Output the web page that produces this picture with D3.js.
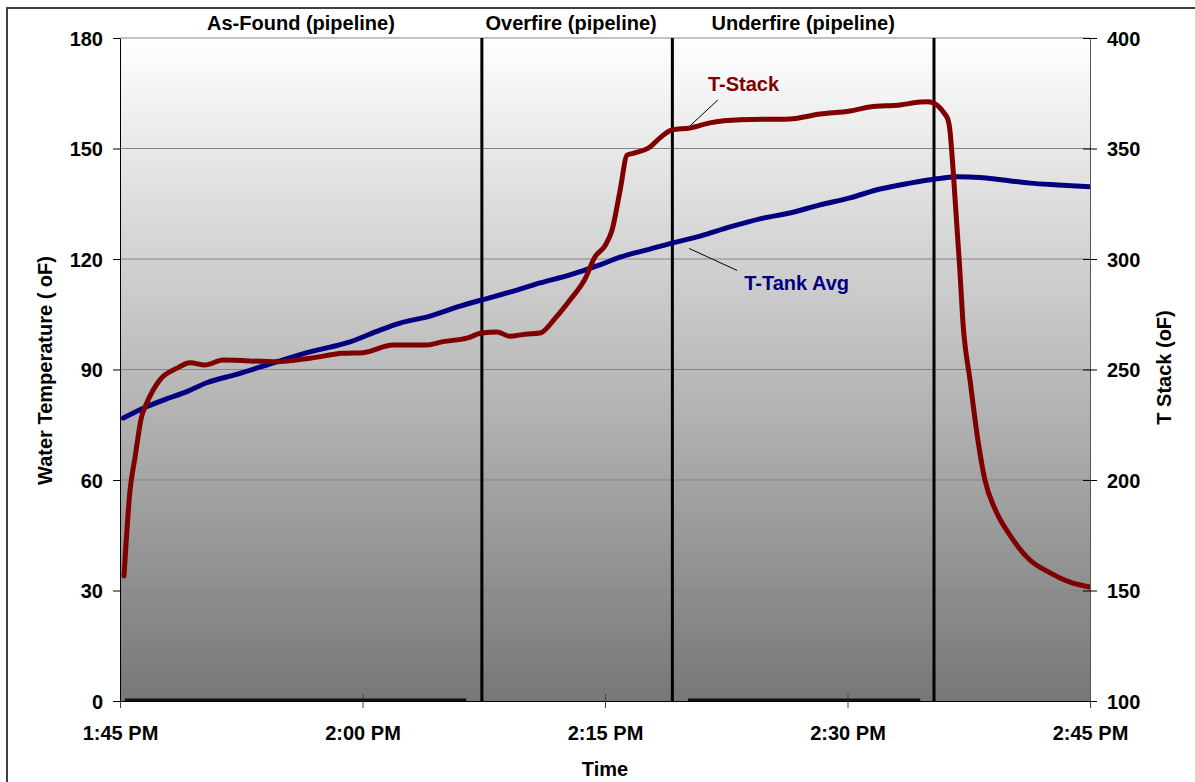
<!DOCTYPE html>
<html>
<head>
<meta charset="utf-8">
<script src="https://cdn.jsdelivr.net/npm/d3@7"></script>
<style>
  body { margin: 0; background: #ffffff; }
  text { font-family: "Liberation Sans", Arial, sans-serif; font-weight: bold; }
</style>
</head>
<body>
<svg id="chart" width="1195" height="782"></svg>
<script>
// ---- data -------------------------------------------------------------
// Average tank water temperature (left axis, oF)
const tankTimes = ["13:45:12","13:46:26","13:47:41","13:49:08","13:50:22","13:52:13","13:54:42","13:56:45",
  "13:59:14","14:01:05","14:02:19","14:04:11","14:06:02","14:07:23","14:09:07","14:10:59","14:12:50",
  "14:14:41","14:15:56","14:17:47","14:19:08","14:20:53","14:22:44","14:24:35","14:26:26","14:28:18",
  "14:30:09","14:32:01","14:33:52","14:35:25","14:36:46","14:38:12","14:39:30","14:41:17","14:43:00","14:45:00"];
const tankValues = [76.8,79.5,81.7,84.0,86.4,88.7,92.1,94.8,
  97.5,100.7,102.6,104.5,107.2,108.9,111.0,113.5,115.7,
  118.4,120.5,122.7,124.3,126.2,128.7,130.9,132.5,134.7,
  136.6,139.0,140.6,141.7,142.3,142.1,141.5,140.6,140.1,139.6];

// Flue stack temperature (right axis, oF)
const stackTimes = ["13:45:15","13:45:37","13:45:56","13:46:20","13:46:39","13:47:28","13:48:30","13:49:20",
  "13:50:15","13:51:23","13:54:42","13:56:45","13:58:47","14:00:02","14:01:53","14:03:58","14:04:59",
  "14:06:27","14:07:23","14:08:19","14:09:07","14:10:03","14:10:59","14:11:54","14:12:50","14:13:46",
  "14:14:23","14:15:00","14:15:26","14:15:56","14:16:22","14:16:51","14:17:47","14:18:24","14:19:08",
  "14:20:15","14:21:29","14:23:21","14:26:26","14:28:18","14:30:09","14:31:23","14:33:15","14:34:29",
  "14:34:59","14:36:08","14:36:20","14:36:32","14:36:57","14:37:08","14:37:35","14:38:04","14:38:30",
  "14:39:07","14:40:03","14:41:17","14:42:32","14:43:46","14:45:00"];
const stackValues = [156.6,195,210.4,228.6,234.7,245.3,250.5,253.1,
  252.0,254.3,253.5,255.1,257.3,257.6,261.1,261.1,262.6,
  264.2,266.5,267.0,265.0,266.0,266.5,273,281.4,291,
  301,306,313,331,347,348,350.7,354.8,358.4,
  359.3,361.6,363,363.4,365.6,367,368.8,369.7,371,
  371.2,364.4,358.4,340.3,295,272,245,218,200,
  187,175,163.8,158,153.8,151.6];

// Test phases: labels and the times that separate them
const phaseLabels = ["As-Found (pipeline)", "Overfire (pipeline)", "Underfire (pipeline)"];
const phaseEdges = ["13:45:00", "14:07:23", "14:19:10", "14:35:21"];

// Spans where the burner signal sits at zero
const idleStarts = ["13:45:18", "14:20:08"];
const idleEnds = ["14:06:25", "14:34:30"];

// Axis ticks
const timeTicks = ["13:45:00", "14:00:00", "14:15:00", "14:30:00", "14:45:00"];
const leftTicks = [0, 30, 60, 90, 120, 150, 180];
const rightTicks = [100, 150, 200, 250, 300, 350, 400];

// ---- layout -----------------------------------------------------------
const parseT = d3.timeParse("%H:%M:%S");
const plot = { left: 120, right: 1090, top: 38, bottom: 701 };

const svg = d3.select("#chart");

const x = d3.scaleTime()
  .domain([parseT(timeTicks[0]), parseT(timeTicks[timeTicks.length - 1])])
  .range([plot.left, plot.right]);
const yL = d3.scaleLinear().domain([0, 180]).range([plot.bottom, plot.top]);
const yR = d3.scaleLinear().domain([100, 400]).range([plot.bottom, plot.top]);

// outer frame
svg.append("rect")
  .attr("x", 7).attr("y", 8).attr("width", 1200).attr("height", 800)
  .attr("fill", "none").attr("stroke", "#404040").attr("stroke-width", 2);

// plot background gradient
const defs = svg.append("defs");
const grad = defs.append("linearGradient")
  .attr("id", "bg").attr("x1", 0).attr("y1", 0).attr("x2", 0).attr("y2", 1);
grad.append("stop").attr("offset", "0%").attr("stop-color", "#ffffff");
grad.append("stop").attr("offset", "100%").attr("stop-color", "#777777");

defs.append("clipPath").attr("id", "plotClip")
  .append("rect")
  .attr("x", plot.left).attr("y", plot.top)
  .attr("width", plot.right - plot.left).attr("height", plot.bottom - plot.top);

svg.append("rect")
  .attr("x", plot.left).attr("y", plot.top)
  .attr("width", plot.right - plot.left).attr("height", plot.bottom - plot.top)
  .attr("fill", "url(#bg)");

// horizontal gridlines
svg.append("g").selectAll("line")
  .data(leftTicks.filter(d => d > 0))
  .join("line")
  .attr("x1", plot.left).attr("x2", plot.right)
  .attr("y1", d => yL(d)).attr("y2", d => yL(d))
  .attr("stroke", "#858585").attr("stroke-width", 1);

// ---- axes -------------------------------------------------------------
function styleAxis(g) {
  g.selectAll("text").attr("font-size", 20).attr("fill", "#000")
    .attr("font-family", "Liberation Sans, Arial, sans-serif").attr("font-weight", "bold");
  g.selectAll("line").attr("stroke", "#000");
  g.select(".domain").attr("stroke", "#000");
}

const gx = svg.append("g").attr("transform", `translate(0,${plot.bottom})`)
  .call(d3.axisBottom(x)
    .tickValues(timeTicks.map(parseT))
    .tickFormat(d3.timeFormat("%-I:%M %p"))
    .tickSizeOuter(0));
styleAxis(gx);
gx.selectAll(".tick line").attr("y1", -7).attr("y2", 7).attr("stroke", "#444");
gx.selectAll(".tick text").attr("y", 39).attr("dy", 0);

const gl = svg.append("g").attr("transform", `translate(${plot.left},0)`)
  .call(d3.axisLeft(yL).tickValues(leftTicks).tickSize(7).tickPadding(10).tickSizeOuter(0));
styleAxis(gl);
gl.selectAll(".tick text").attr("dy", "0.36em");

const gr = svg.append("g").attr("transform", `translate(${plot.right},0)`)
  .call(d3.axisRight(yR).tickValues(rightTicks).tickSize(7).tickPadding(10).tickSizeOuter(0));
styleAxis(gr);
gr.selectAll(".tick line").attr("x1", -7);
gr.select(".domain").attr("stroke", "#555");
gr.selectAll(".tick text").attr("dy", "0.36em");

// axis titles
svg.append("text")
  .attr("transform", `translate(52,${(plot.top + plot.bottom) / 2 + 1}) rotate(-90)`)
  .attr("text-anchor", "middle").attr("font-size", 20).attr("fill", "#000")
  .text("Water Temperature ( oF)");
svg.append("text")
  .attr("transform", `translate(1171,${(plot.top + plot.bottom) / 2 - 2}) rotate(-90)`)
  .attr("text-anchor", "middle").attr("font-size", 20).attr("fill", "#000")
  .text("T Stack (oF)");
svg.append("text")
  .attr("x", x(parseT("14:15:00"))).attr("y", 776)
  .attr("text-anchor", "middle").attr("font-size", 20).attr("fill", "#000")
  .text("Time");

// ---- marks ------------------------------------------------------------
const marks = svg.append("g").attr("clip-path", "url(#plotClip)");

// burner idle spans on the zero line
marks.append("g").selectAll("line")
  .data(idleStarts.map((s, i) => [parseT(s), parseT(idleEnds[i])]))
  .join("line")
  .attr("x1", d => x(d[0])).attr("x2", d => x(d[1]))
  .attr("y1", yL(0) - 1).attr("y2", yL(0) - 1)
  .attr("stroke", "#111").attr("stroke-width", 3);

// phase boundary lines
marks.append("g").selectAll("line")
  .data(phaseEdges.slice(1).map(parseT))
  .join("line")
  .attr("x1", d => x(d)).attr("x2", d => x(d))
  .attr("y1", plot.top).attr("y2", plot.bottom)
  .attr("stroke", "#000").attr("stroke-width", 3);

const tankLine = d3.line()
  .x((d, i) => x(parseT(tankTimes[i])))
  .y(d => yL(d))
  .curve(d3.curveMonotoneX);
const stackLine = d3.line()
  .x((d, i) => x(parseT(stackTimes[i])))
  .y(d => yR(d))
  .curve(d3.curveMonotoneX);

marks.append("path").datum(tankValues)
  .attr("d", tankLine)
  .attr("fill", "none").attr("stroke", "#000080").attr("stroke-width", 5)
  .attr("stroke-linejoin", "round").attr("stroke-linecap", "round");

marks.append("path").datum(stackValues)
  .attr("d", stackLine)
  .attr("fill", "none").attr("stroke", "#800000").attr("stroke-width", 5)
  .attr("stroke-linejoin", "round").attr("stroke-linecap", "round");

// phase labels centred over each phase
svg.append("g").selectAll("text")
  .data(phaseLabels)
  .join("text")
  .attr("x", (d, i) => {
    const a = x(parseT(phaseEdges[i]));
    const b = x(parseT(phaseEdges[i + 1]));
    return (a + b) / 2 - (i === 1 ? 6 : 0);
  })
  .attr("y", 30)
  .attr("text-anchor", "middle").attr("font-size", 20).attr("fill", "#000")
  .text(d => d);

// series labels with leader lines
const stackAnchor = parseT("14:20:15");
svg.append("line")
  .attr("x1", x(stackAnchor)).attr("y1", yR(359.3) - 2)
  .attr("x2", x(stackAnchor) + 28).attr("y2", yR(359.3) - 28)
  .attr("stroke", "#000").attr("stroke-width", 1);
svg.append("text")
  .attr("x", x(stackAnchor) + 18).attr("y", 91)
  .attr("font-size", 20).attr("fill", "#800000")
  .text("T-Stack");

const tankAnchor = parseT("14:20:05");
svg.append("line")
  .attr("x1", x(tankAnchor) + 2).attr("y1", yL(125.3) + 9)
  .attr("x2", x(tankAnchor) + 50).attr("y2", yL(125.3) + 31)
  .attr("stroke", "#000").attr("stroke-width", 1);
svg.append("text")
  .attr("x", x(tankAnchor) + 57).attr("y", 290)
  .attr("font-size", 20).attr("fill", "#000080")
  .text("T-Tank Avg");
</script>
</body>
</html>
